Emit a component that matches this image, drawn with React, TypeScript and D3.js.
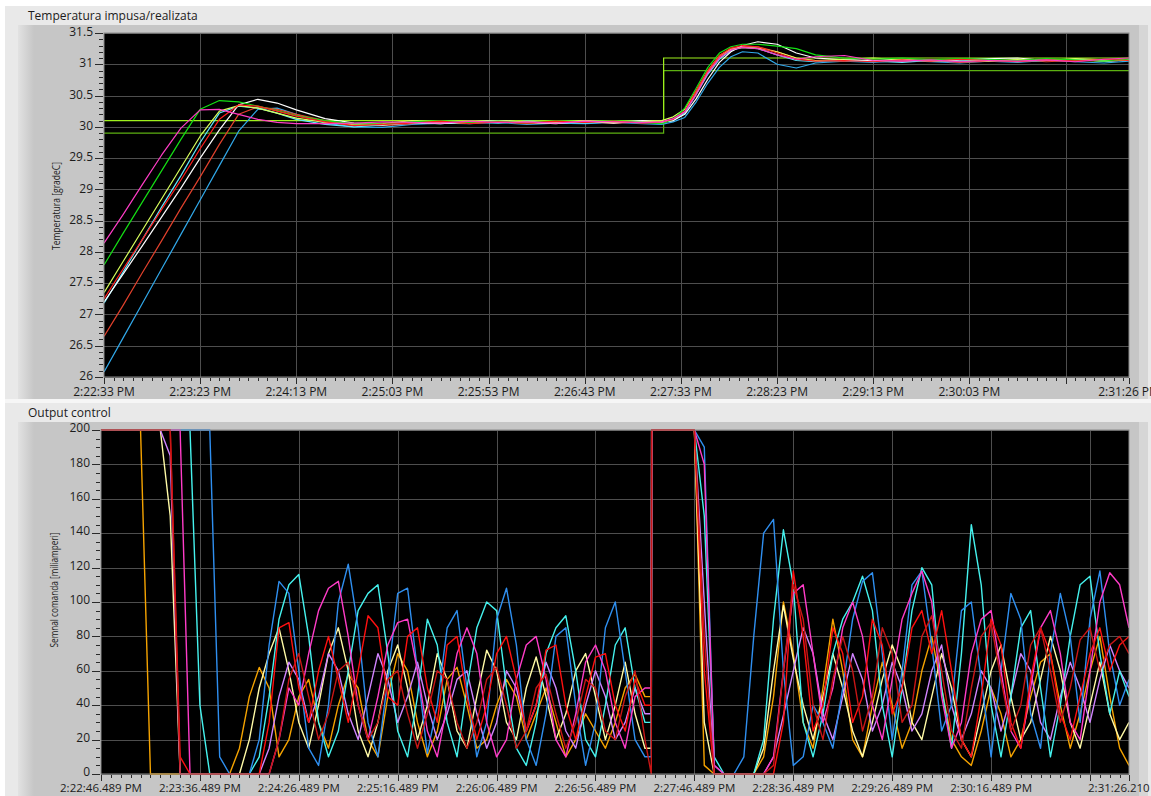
import React from 'react';
import * as d3 from 'd3';

// ---------------- TOP CHART DATA (seconds from 2:22:33 PM) ----------------
const topTimes = [0, 10, 20, 30, 40, 50, 60, 70, 80, 90, 100, 115, 130, 145, 160, 175, 190, 205, 220, 235,
  250, 265, 280, 290, 296, 302, 308, 314, 320, 326, 332, 340, 350, 360, 370, 385, 400, 415, 430, 445,
  460, 475, 490, 505, 520, 533];

const tMagenta = [28.14, 28.6, 29.08, 29.55, 29.98, 30.27, 30.28, 30.2, 30.12, 30.07,
  30.05, 30.05, 30.06, 30.08, 30.07, 30.06, 30.09, 30.07, 30.08, 30.06,
  30.09, 30.08, 30.07, 30.08, 30.13, 30.24, 30.52, 30.86, 31.1, 31.23,
  31.27, 31.25, 31.15, 31.08, 31.12, 31.14, 31.06, 31.05, 31.07, 31.04,
  31.06, 31.05, 31.07, 31.04, 31.08, 31.1];
const tGreen = [27.79, 28.3, 28.8, 29.3, 29.8, 30.28, 30.42, 30.4, 30.33, 30.26,
  30.18, 30.1, 30.05, 30.04, 30.08, 30.1, 30.07, 30.09, 30.06, 30.1,
  30.08, 30.1, 30.07, 30.05, 30.12, 30.3, 30.62, 30.95, 31.18, 31.28,
  31.32, 31.32, 31.29, 31.25, 31.15, 31.1, 31.08, 31.1, 31.07, 31.09,
  31.08, 31.06, 31.09, 31.07, 31.05, 31.08];
const tWhite = [27.2, 27.65, 28.1, 28.56, 29.02, 29.5, 29.95, 30.35, 30.44, 30.38,
  30.27, 30.13, 30.06, 30.03, 30.07, 30.05, 30.08, 30.1, 30.07, 30.05,
  30.09, 30.06, 30.1, 30.08, 30.1, 30.2, 30.45, 30.76, 31.03, 31.2,
  31.3, 31.36, 31.32, 31.18, 31.1, 31.07, 31.06, 31.08, 31.05, 31.07,
  31.09, 31.1, 31.06, 31.08, 31.05, 31.07];
const tYellowGreen = [27.35, 27.85, 28.35, 28.85, 29.35, 29.85, 30.25, 30.34, 30.3, 30.22,
  30.14, 30.07, 30.03, 30.05, 30.1, 30.08, 30.06, 30.09, 30.08, 30.07,
  30.1, 30.07, 30.08, 30.1, 30.16, 30.28, 30.58, 30.9, 31.14, 31.24,
  31.27, 31.26, 31.2, 31.1, 31.06, 31.08, 31.1, 31.07, 31.06, 31.08,
  31.05, 31.08, 31.06, 31.09, 31.07, 31.06];
const tRed = [27.25, 27.73, 28.2, 28.68, 29.15, 29.65, 30.12, 30.35, 30.33, 30.25,
  30.17, 30.08, 30.02, 30.04, 30.06, 30.09, 30.05, 30.08, 30.06, 30.09,
  30.07, 30.09, 30.06, 30.08, 30.12, 30.25, 30.58, 30.9, 31.14, 31.26,
  31.3, 31.28, 31.18, 31.08, 31.05, 31.06, 31.04, 31.07, 31.05, 31.08,
  31.06, 31.04, 31.07, 31.05, 31.08, 31.06];
const tCyan = [27.18, 27.68, 28.2, 28.72, 29.22, 29.75, 30.22, 30.33, 30.3, 30.22,
  30.12, 30.04, 30.0, 30.03, 30.06, 30.05, 30.08, 30.06, 30.09, 30.07,
  30.06, 30.08, 30.09, 30.07, 30.1, 30.22, 30.52, 30.84, 31.08, 31.22,
  31.27, 31.25, 31.15, 31.06, 31.04, 31.07, 31.05, 31.03, 31.06, 31.05,
  31.07, 31.04, 31.06, 31.08, 31.05, 31.07];
const tDarkRed = [26.65, 27.15, 27.67, 28.18, 28.7, 29.2, 29.72, 30.2, 30.32, 30.28,
  30.2, 30.1, 30.03, 30.02, 30.05, 30.07, 30.06, 30.08, 30.05, 30.07,
  30.08, 30.06, 30.08, 30.06, 30.11, 30.24, 30.55, 30.87, 31.12, 31.25,
  31.29, 31.28, 31.2, 31.1, 31.06, 31.05, 31.07, 31.04, 31.06, 31.03,
  31.05, 31.07, 31.04, 31.06, 31.05, 31.07];
const tSkyBlue = [26.08, 26.63, 27.18, 27.73, 28.28, 28.83, 29.38, 29.93, 30.28, 30.3,
  30.2, 30.06, 30.0, 29.99, 30.04, 30.06, 30.05, 30.07, 30.04, 30.06,
  30.05, 30.07, 30.05, 30.04, 30.08, 30.15, 30.4, 30.7, 30.95, 31.12,
  31.2, 31.18, 31.0, 30.94, 31.02, 31.05, 31.03, 31.06, 31.04, 31.02,
  31.05, 31.03, 31.06, 31.04, 31.02, 31.05];

const spTimes = [0, 291, 291, 533];
const spHigh = [30.1, 30.1, 31.1, 31.1];
const spLow = [29.9, 29.9, 30.9, 30.9];

const topYTicks = [26, 26.5, 27, 27.5, 28, 28.5, 29, 29.5, 30, 30.5, 31, 31.5];
const topYLabels = ['26', '26.5', '27', '27.5', '28', '28.5', '29', '29.5', '30', '30.5', '31', '31.5'];
const topXGrid = [50, 100, 150, 200, 250, 300, 350, 400, 450, 500];
const topXLabelSecs = [0, 50, 100, 150, 200, 250, 300, 350, 400, 450, 533];
const topXLabels = ['2:22:33 PM', '2:23:23 PM', '2:24:13 PM', '2:25:03 PM', '2:25:53 PM', '2:26:43 PM',
  '2:27:33 PM', '2:28:23 PM', '2:29:13 PM', '2:30:03 PM', '2:31:26 PM'];

// ---------------- BOTTOM CHART DATA (seconds from 2:22:46.489 PM) ----------------
const botTimes = [0, 5, 10, 15, 20, 25, 30, 35, 40, 45, 50, 55, 60, 65, 70, 75, 80, 85, 90, 95,
  100, 105, 110, 115, 120, 125, 130, 135, 140, 145, 150, 155, 160, 165, 170, 175, 180, 185, 190, 195,
  200, 205, 210, 215, 220, 225, 230, 235, 240, 245, 250, 255, 260, 265, 270, 275,
  278.2, 278.4,
  280, 285, 290, 295, 300, 305, 310, 315, 320, 325, 330, 335, 340, 345, 350, 355, 360, 365, 370, 375,
  380, 385, 390, 395, 400, 405, 410, 415, 420, 425, 430, 435, 440, 445, 450, 455, 460, 465, 470, 475,
  480, 485, 490, 495, 500, 505, 510, 515,
  519.72];

const bOrange = [200, 200, 200, 200, 200,
  0, 0, 0, 0, 0, 0, 0, 0, 0, 15, 45, 62, 50, 10, 20, 45, 55, 30, 15, 40, 58, 50, 20, 10, 45, 70, 60, 30, 10, 25, 55, 62, 40, 15, 20, 40, 55, 45, 20, 35, 50, 30, 10, 20, 35, 25, 15, 30, 50, 58, 45,
  45, 200,
  200, 200, 200, 200, 200,
  5, 0, 0, 0, 0, 0, 10, 45, 100, 70, 30, 15, 50, 90, 60, 20, 10, 40, 65, 40, 15, 30, 60, 80, 50, 20, 10, 5, 25, 50, 35, 10, 20, 45, 65, 70, 40, 15, 35, 60, 80, 45, 15,
  5];
const bYellow = [200, 200, 200, 200, 200, 200, 200,
  150, 0, 0, 0, 0, 0, 0, 0, 20, 50, 70, 85, 60, 30, 15, 40, 70, 85, 60, 25, 10, 30, 60, 75, 50, 20, 40, 70, 55, 25, 15, 45, 72, 60, 30, 20, 50, 68, 45, 20, 35, 60, 70, 45, 20, 40, 65, 35, 15,
  15, 200,
  200, 200, 200, 200, 200,
  30, 0, 0, 0, 0, 0, 15, 60, 98, 67, 40, 20, 45, 70, 50, 25, 10, 30, 55, 75, 60, 30, 20, 45, 70, 50, 20, 10, 35, 60, 75, 45, 20, 30, 55, 80, 60, 30, 15, 40, 65, 35, 20,
  30];
const bViolet = [200, 200, 200, 200, 200, 200, 200,
  185, 0, 0, 0, 0, 0, 0, 0, 0, 0, 15, 45, 65, 55, 30, 45, 70, 60, 35, 20, 45, 70, 55, 30, 45, 65, 40, 20, 35, 55, 60, 35, 15, 30, 60, 50, 25, 40, 65, 50, 25, 15, 40, 60, 45, 20, 30, 50, 35,
  35, 200,
  200, 200, 200, 200, 200,
  100, 0, 0, 0, 0, 0, 0, 10, 34, 60, 85, 70, 35, 20, 45, 70, 55, 25, 40, 65, 50, 25, 35, 60, 75, 40, 20, 35, 60, 50, 25, 45, 70, 60, 30, 20, 45, 65, 50, 30, 55, 75, 60,
  50];
const bCyan = [200, 200, 200, 200, 200, 200, 200, 200, 200, 200,
  40, 0, 0, 0, 0, 0, 10, 45, 90, 110, 116, 80, 30, 10, 25, 60, 95, 105, 110, 70, 25, 10, 45, 90, 75, 30, 10, 50, 85, 100, 95, 50, 15, 5, 30, 70, 85, 92, 60, 20, 10, 40, 75, 85, 50, 30,
  30, 200,
  200, 200, 200, 200, 200,
  150, 10, 0, 0, 0, 0, 20, 90, 142, 110, 30, 10, 35, 70, 90, 100, 115, 95, 40, 10, 50, 95, 120, 110, 50, 15, 70, 145, 110, 40, 10, 45, 85, 95, 50, 10, 40, 80, 110, 115, 70, 35, 60,
  45];
const bBlue = [200, 200, 200, 200, 200, 200, 200, 200, 200, 200, 200, 200,
  10, 0, 0, 0, 20, 75, 112, 105, 60, 15, 5, 40, 100, 122, 85, 30, 10, 55, 105, 108, 60, 12, 40, 85, 95, 50, 10, 30, 90, 108, 75, 20, 5, 35, 80, 85, 40, 5, 30, 85, 100, 60, 20, 10,
  10, 200,
  200, 200, 200, 200, 200,
  190, 5, 0, 0, 10, 80, 140, 148, 60, 5, 10, 40, 30, 15, 50, 90, 112, 117, 70, 20, 60, 110, 118, 75, 25, 40, 95, 100, 55, 10, 60, 105, 90, 35, 15, 70, 105, 80, 30, 90, 118, 70, 40,
  55];
const bMagenta = [200, 200, 200, 200, 200, 200, 200, 200, 200,
  0, 0, 0, 0, 0, 0, 0, 0, 0, 20, 50, 40, 70, 95, 108, 112, 80, 40, 20, 45, 75, 88, 90, 60, 25, 10, 40, 70, 85, 70, 30, 10, 20, 55, 75, 80, 55, 20, 10, 35, 65, 75, 60, 30, 15, 45, 50,
  50, 200,
  200, 200, 200, 200, 200,
  180, 5, 0, 0, 0, 0, 0, 10, 60, 105, 110, 70, 30, 50, 85, 100, 80, 40, 20, 55, 90, 105, 118, 100, 45, 15, 30, 70, 90, 95, 60, 25, 15, 50, 85, 95, 70, 30, 20, 60, 100, 117, 110,
  85];
const bRed = [200, 200, 200, 200, 200, 200, 200, 200,
  10, 0, 0, 0, 0, 0, 0, 0, 0, 30, 85, 88, 50, 30, 60, 80, 55, 30, 60, 92, 85, 45, 40, 80, 85, 50, 30, 75, 80, 45, 20, 40, 70, 80, 55, 25, 40, 72, 75, 40, 20, 45, 68, 70, 40, 25, 55, 40,
  40, 200,
  200, 200, 200, 200, 200,
  60, 0, 0, 0, 0, 0, 0, 0, 30, 118, 80, 25, 40, 85, 70, 30, 45, 90, 75, 35, 50, 85, 95, 70, 95, 60, 20, 10, 45, 90, 75, 30, 15, 55, 85, 70, 35, 20, 45, 70, 85, 60, 75,
  80];
const bDarkRed = [200, 200, 200, 200, 200, 200, 200, 200,
  0, 0, 0, 0, 0, 0, 0, 0, 0, 0, 20, 55, 70, 45, 20, 35, 60, 65, 40, 20, 30, 55, 60, 35, 15, 35, 60, 55, 30, 15, 30, 55, 62, 40, 15, 25, 50, 58, 35, 15, 30, 55, 50, 25, 20, 45, 60, 20,
  0, 200,
  200, 200, 200, 200, 200,
  80, 0, 0, 0, 0, 0, 0, 5, 60, 110, 90, 40, 20, 55, 80, 60, 25, 45, 85, 70, 30, 40, 80, 92, 60, 25, 15, 50, 80, 88, 55, 25, 40, 75, 85, 60, 30, 50, 78, 85, 60, 75, 80,
  70];

const botYTicks = [0, 20, 40, 60, 80, 100, 120, 140, 160, 180, 200];
const botYLabels = ['0', '20', '40', '60', '80', '100', '120', '140', '160', '180', '200'];
const botXGrid = [50, 100, 150, 200, 250, 300, 350, 400, 450, 500];
const botXLabelSecs = [0, 50, 100, 150, 200, 250, 300, 350, 400, 450, 519.72];
const botXLabels = ['2:22:46.489 PM', '2:23:36.489 PM', '2:24:26.489 PM', '2:25:16.489 PM', '2:26:06.489 PM',
  '2:26:56.489 PM', '2:27:46.489 PM', '2:28:36.489 PM', '2:29:26.489 PM', '2:30:16.489 PM', '2:31:26.210 PM'];

const topSeries = [
  { values: tSkyBlue, color: '#31a9ea' },
  { values: tDarkRed, color: '#e2412c' },
  { values: tCyan, color: '#5fe6ff' },
  { values: tWhite, color: '#ffffff' },
  { values: tYellowGreen, color: '#d8ff5c' },
  { values: tGreen, color: '#14e014' },
  { values: tRed, color: '#ff1e1e' },
  { values: tMagenta, color: '#ff3cc6' },
];
const botSeries = [
  { values: bOrange, color: '#f5a300' },
  { values: bYellow, color: '#fffaa6' },
  { values: bViolet, color: '#d184ff' },
  { values: bCyan, color: '#45f2ee' },
  { values: bBlue, color: '#2f8ff0' },
  { values: bMagenta, color: '#ff3cc8' },
  { values: bRed, color: '#ff1010' },
  { values: bDarkRed, color: '#c81616' },
];

const FONT = "'Open Sans', 'Noto Sans', 'DejaVu Sans', sans-serif";
const TXT = '#1c1c1c';

export default function App() {
  const xT = d3.scaleLinear().domain([0, 533]).range([104, 1129]);
  const yT = d3.scaleLinear().domain([26, 31.5]).range([377, 33]);
  const xB = d3.scaleLinear().domain([0, 519.72]).range([101, 1129]);
  const yB = d3.scaleLinear().domain([0, 200]).range([774, 430]);

  const mkLine = (times: number[], xs: any, ys: any) =>
    d3.line<number>()
      .defined((d, i) => d != null && times[i] != null)
      .x((_d, i) => xs(times[i]))
      .y((d) => ys(d));

  const topLine = mkLine(topTimes, xT, yT);
  const spLine = mkLine(spTimes, xT, yT);
  const botLine = mkLine(botTimes, xB, yB);

  const topMinorY = yT.ticks(55);
  const botMinorY = yB.ticks(40);
  const topMinorX = d3.range(0, 534, 5);
  const botMinorX = d3.range(0, 520, 5);

  const panel = (y0: number, title: string) => (
    <g>
      <rect x={5} y={y0} width={1146} height={397} fill="#e9e9e9" />
      <rect x={18} y={y0 + 19} width={1130} height={376} fill="#c6c6c6" />
      <rect x={18} y={y0 + 19} width={16} height={376} fill="url(#lgLeft)" />
      <rect x={1139} y={y0 + 19} width={9} height={376} fill="#d6d6d6" />
      <text x={28} y={y0 + 14} fontSize={12} fill={TXT} fontFamily={FONT}>{title}</text>
    </g>
  );

  return (
    <svg width={1151} height={796} style={{ position: 'absolute', left: 0, top: 0 }}
      xmlns="http://www.w3.org/2000/svg">
      <defs>
        <linearGradient id="lgLeft" x1="0" x2="1" y1="0" y2="0">
          <stop offset="0" stopColor="#e2e2e2" />
          <stop offset="1" stopColor="#c6c6c6" />
        </linearGradient>
        <clipPath id="clipTop"><rect x={104} y={33} width={1025} height={344} /></clipPath>
        <clipPath id="clipBot"><rect x={101} y={429} width={1028} height={346} /></clipPath>
      </defs>
      <rect x={0} y={0} width={1151} height={796} fill="#ffffff" />
      {panel(6, 'Temperatura impusa/realizata')}
      {panel(403, 'Output control')}
      <rect x={5} y={399} width={1146} height={4} fill="#f6f6f6" />

      {/* ---------- TOP PLOT ---------- */}
      <rect x={104} y={33} width={1025} height={344} fill="#000" />
      <g stroke="#4e4e4e" strokeWidth={1}>
        {topYTicks.map((v) => (
          <line key={'tgy' + v} x1={104} x2={1129} y1={Math.round(yT(v)) + 0.5} y2={Math.round(yT(v)) + 0.5} />
        ))}
        {topXGrid.map((t) => (
          <line key={'tgx' + t} x1={Math.round(xT(t)) + 0.5} x2={Math.round(xT(t)) + 0.5} y1={33} y2={377} />
        ))}
      </g>
      <g clipPath="url(#clipTop)" fill="none">
        <path d={spLine(spLow) || ''} stroke="#5cb012" strokeWidth={1.2} />
        <path d={spLine(spHigh) || ''} stroke="#9ef01c" strokeWidth={1.2} />
        {topSeries.map((s, i) => (
          <path key={'ts' + i} d={topLine(s.values) || ''} stroke={s.color} strokeWidth={1.2} strokeLinejoin="round" />
        ))}
      </g>
      <rect x={104} y={33} width={1025} height={344} fill="none" stroke="#8a8a8a" strokeWidth={1} />
      {/* top y axis */}
      <g stroke="#2a2a2a" strokeWidth={1}>
        {topMinorY.map((v, i) => (
          <line key={'tmy' + i} x1={99} x2={103} y1={Math.round(yT(v)) + 0.5} y2={Math.round(yT(v)) + 0.5} />
        ))}
        {topYTicks.map((v) => (
          <line key={'tty' + v} x1={95} x2={103} y1={Math.round(yT(v)) + 0.5} y2={Math.round(yT(v)) + 0.5} />
        ))}
        {topMinorX.map((t) => (
          <line key={'tmx' + t} x1={Math.round(xT(t)) + 0.5} x2={Math.round(xT(t)) + 0.5} y1={378} y2={381} />
        ))}
        {topXGrid.concat([0, 533]).map((t) => (
          <line key={'ttx' + t} x1={Math.round(xT(t)) + 0.5} x2={Math.round(xT(t)) + 0.5} y1={378} y2={384} />
        ))}
      </g>
      <g fontFamily={FONT} fontSize={12} fill={TXT}>
        {topYTicks.map((v, i) => (
          <text key={'tly' + v} x={93} y={yT(v)} textAnchor="end" dominantBaseline="middle">{topYLabels[i]}</text>
        ))}
        {topXLabelSecs.map((t, i) => (
          <text key={'tlx' + t} x={xT(t)} y={396} textAnchor="middle">{topXLabels[i]}</text>
        ))}
      </g>
      <text transform="translate(60,206) rotate(-90)" textAnchor="middle" fontFamily={FONT} fontSize={11}
        fill={TXT} textLength={88} lengthAdjust="spacingAndGlyphs">Temperatura [gradeC]</text>

      {/* ---------- BOTTOM PLOT ---------- */}
      <rect x={101} y={430} width={1028} height={344} fill="#000" />
      <g stroke="#4e4e4e" strokeWidth={1}>
        {botYTicks.map((v) => (
          <line key={'bgy' + v} x1={101} x2={1129} y1={Math.round(yB(v)) + 0.5} y2={Math.round(yB(v)) + 0.5} />
        ))}
        {botXGrid.map((t) => (
          <line key={'bgx' + t} x1={Math.round(xB(t)) + 0.5} x2={Math.round(xB(t)) + 0.5} y1={430} y2={774} />
        ))}
      </g>
      <g clipPath="url(#clipBot)" fill="none">
        {botSeries.map((s, i) => (
          <path key={'bs' + i} d={botLine(s.values) || ''} stroke={s.color} strokeWidth={1.4} strokeLinejoin="round" />
        ))}
      </g>
      <rect x={101} y={430} width={1028} height={344} fill="none" stroke="#8a8a8a" strokeWidth={1} />
      <g stroke="#2a2a2a" strokeWidth={1}>
        {botMinorY.map((v, i) => (
          <line key={'bmy' + i} x1={96} x2={100} y1={Math.round(yB(v)) + 0.5} y2={Math.round(yB(v)) + 0.5} />
        ))}
        {botYTicks.map((v) => (
          <line key={'bty' + v} x1={92} x2={100} y1={Math.round(yB(v)) + 0.5} y2={Math.round(yB(v)) + 0.5} />
        ))}
        {botMinorX.map((t) => (
          <line key={'bmx' + t} x1={Math.round(xB(t)) + 0.5} x2={Math.round(xB(t)) + 0.5} y1={775} y2={778} />
        ))}
        {botXGrid.concat([0, 519.72]).map((t) => (
          <line key={'btx' + t} x1={Math.round(xB(t)) + 0.5} x2={Math.round(xB(t)) + 0.5} y1={775} y2={781} />
        ))}
      </g>
      <g fontFamily={FONT} fontSize={12} fill={TXT}>
        {botYTicks.map((v, i) => (
          <text key={'bly' + v} x={90} y={yB(v) - 1} textAnchor="end" dominantBaseline="middle">{botYLabels[i]}</text>
        ))}
      </g>
      <g fontFamily={FONT} fontSize={11.5} fill={TXT}>
        {botXLabelSecs.map((t, i) => (
          <text key={'blx' + t} x={xB(t)} y={792} textAnchor="middle">{botXLabels[i]}</text>
        ))}
      </g>
      <text transform="translate(58,590) rotate(-90)" textAnchor="middle" fontFamily={FONT} fontSize={11}
        fill={TXT} textLength={115} lengthAdjust="spacingAndGlyphs">Semnal comanda [miliamperi]</text>
    </svg>
  );
}
